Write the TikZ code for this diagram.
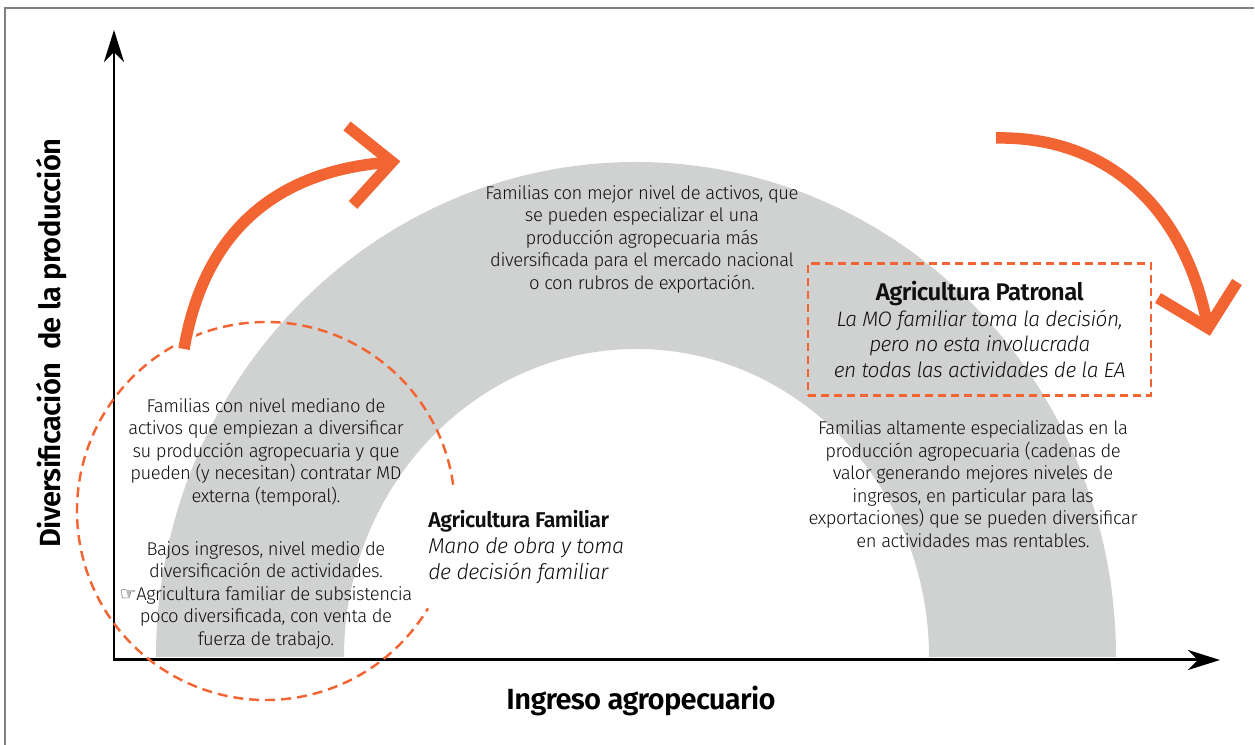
\documentclass[tikz,border=0pt]{standalone}
\usepackage{fontspec}
\usepackage{xcolor}
\usetikzlibrary{arrows.meta}
\setmainfont{Fira Sans Light}[LetterSpace=-2.5,BoldFont={Fira Sans SemiBold},ItalicFont={Fira Sans Light Italic},BoldItalicFont={Fira Sans Italic},BoldFeatures={LetterSpace=-2.5},ItalicFeatures={LetterSpace=-2.5}]
\newfontfamily\handfont{DejaVu Sans}
\definecolor{naranja}{HTML}{F26532}
\definecolor{gris}{HTML}{D0D2D1}
\definecolor{tinta}{HTML}{110E0F}
\tikzset{
  cuerpo/.style={text=tinta,align=center,inner sep=0pt,font=\fontsize{10.5}{12.8}\selectfont},
  titulo/.style={text=black,inner sep=0pt,font=\fontsize{16.6}{19}\selectfont\bfseries},
  eje/.style={black,line width=1.7pt,-{Stealth[length=0.64cm,width=0.4cm,inset=0.2cm]}},
  flecha/.style={naranja,line width=0.23cm},
  punteado/.style={naranja,line width=1.4pt,dash pattern=on 5.7pt off 3.4pt},
  recuadro/.style={draw=naranja,line width=1.4pt,dash pattern=on 4.7pt off 2.7pt}
}
\begin{document}
\begin{tikzpicture}
      \useasboundingbox (0,0) rectangle (25.10,14.90);
      \draw[gray,line width=0.8pt] (0.10,-0.10) -- (0.10,14.74) -- (25.08,14.74);

      % arco
      \fill[gris] (3.12,1.76) arc[start angle=180,end angle=0,x radius=9.60,y radius=9.90]
        -- (18.58,1.76) arc[start angle=0,end angle=180,x radius=5.85,y radius=6.16] -- cycle;

      % ejes
      \coordinate (origen) at (2.28,1.70);
      \coordinate (ejey) at (2.28,14.30);
      \coordinate (ejex) at (24.40,1.70);
      \draw[eje,line cap=rect] (origen) -- (ejey);
      \draw[eje,line cap=rect] (origen) -- (ejex);

      % circulo
      \draw[punteado] (5.32,4.68) ++(8:3.78) arc[start angle=8,end angle=329,radius=3.78];

      % flechas
      \draw[white,line width=0.36cm] (3.68,7.92) .. controls (4.08,10.25) and (5.50,11.50) .. (7.84,11.66);
      \draw[flecha] (3.68,7.92) .. controls (4.08,10.25) and (5.50,11.50) .. (7.84,11.66);
      \draw[flecha] (6.94,12.38) -- (7.84,11.66) -- (7.06,10.80);
      \draw[flecha] (19.92,12.14) .. controls (22.10,12.18) and (23.70,10.80) .. (24.16,8.34);
      \draw[flecha] (23.16,8.94) -- (24.16,8.34) -- (24.74,9.26);

      % textos
      \node[cuerpo] (activos) at (12.84,10.12) {Familias con mejor nivel de activos, que\\se pueden especializar el una\\producción agropecuaria más\\diversificada para el mercado nacional\\o con rubros de exportación.};
      \node[cuerpo] (mediano) at (5.32,5.86) {Familias con nivel mediano de\\activos que empiezan a diversificar\\su producción agropecuaria y que\\pueden (y necesitan) contratar MD\\externa (temporal).};
      \node[cuerpo] (bajos) at (5.32,3.00) {Bajos ingresos, nivel medio de\\diversificación de actividades.\\{\handfont\char"261E}Agricultura familiar de subsistencia\\poco diversificada, con venta de\\fuerza de trabajo.};
      \node[cuerpo] (altamente) at (19.46,5.22) {Familias altamente especializadas en la\\producción agropecuaria (cadenas de\\valor generando mejores niveles de\\ingresos, en particular para las\\exportaciones) que se pueden diversificar\\en actividades mas rentables.};

      \node[text=tinta,align=left,inner sep=0pt,anchor=west,font=\fontsize{12.2}{14.6}\selectfont] (familiar) at (8.56,3.96) {\textbf{Agricultura Familiar}\\\textit{Mano de obra y toma}\\\textit{de decisión familiar}};
      \node[recuadro,text=tinta,align=center,minimum width=6.86cm,minimum height=2.64cm,inner sep=0pt,font=\fontsize{11.9}{14.6}\selectfont] (patronal) at (19.59,8.31) {{\fontsize{13.7}{14.6}\selectfont\textbf{Agricultura Patronal}}\\\textit{La MO familiar toma la decisión,}\\\textit{pero no esta involucrada}\\\textit{en todas las actividades de la EA}};

      \node[titulo] (ingreso) at (12.82,0.87) {Ingreso agropecuario};
      \node[titulo,rotate=90] (diversificacion) at (1.04,8.04) {Diversificación\ \ de la producción};

    \end{tikzpicture}
\end{document}
